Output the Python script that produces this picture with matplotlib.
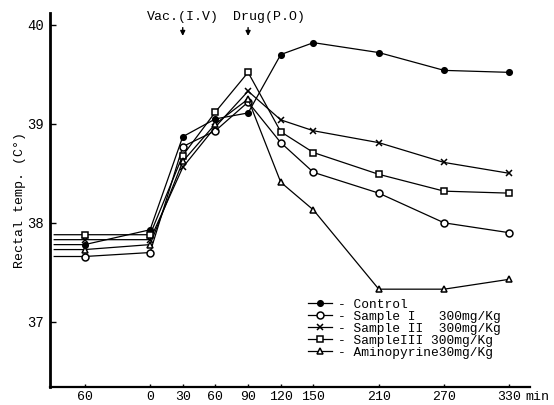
# External imports
import numpy as np
import matplotlib
matplotlib.use("Agg")
import matplotlib.pyplot as plt

# Time axis (min); negative = before vaccination, first point is the line start
times = [-88, -60, 0, 30, 60, 90, 120, 150, 210, 270, 330]
tick_times = [-60, 0, 30, 60, 90, 120, 150, 210, 270, 330]
tick_labels = ["60", "0", "30", "60", "90", "120", "150", "210", "270", "330"]

# Rectal temperature (C) for each group
control = [37.78, 37.78, 37.93, 38.87, 39.05, 39.11, 39.70, 39.82, 39.72, 39.54, 39.52]
sample_1 = [37.66, 37.66, 37.70, 38.77, 38.93, 39.22, 38.81, 38.51, 38.30, 38.00, 37.90]
sample_2 = [37.83, 37.83, 37.83, 38.56, 38.97, 39.33, 39.04, 38.93, 38.81, 38.61, 38.50]
sample_3 = [37.88, 37.88, 37.88, 38.68, 39.12, 39.52, 38.92, 38.71, 38.49, 38.32, 38.30]
aminopyrine = [37.73, 37.73, 37.78, 38.62, 39.00, 39.25, 38.41, 38.13, 37.33, 37.33, 37.43]

labels = ["- Control",
          "- Sample I   300mg/Kg",
          "- Sample II  300mg/Kg",
          "- SampleIII 300mg/Kg",
          "- Aminopyrine30mg/Kg"]

FONT = "Liberation Mono"
plt.rcParams['font.family'] = [FONT, 'DejaVu Sans']

fig = plt.figure(figsize=(5.54, 4.05), dpi=100)
ax = fig.add_axes([0.09, 0.044, 0.867, 0.924])

# Marker styles: (marker, size, filled)
styles = [("o", 4, True), ("o", 5, False), ("x", 5, True), ("s", 5, False), ("^", 5, False)]
series = [control, sample_1, sample_2, sample_3, aminopyrine]

for values, (mk, ms, filled), lab in zip(series, styles, labels):
    ax.plot(times, values, color="black", lw=0.9, marker=mk, ms=ms,
            mfc="black" if filled else "white", mec="black", mew=1.1,
            markevery=list(range(1, len(times))), label=lab)

# Axes styling
ax.set_xlim(-92, 349)
ax.set_ylim(36.34, 40.12)
ax.spines['top'].set_visible(False)
ax.spines['right'].set_visible(False)
ax.spines['left'].set_linewidth(2.0)
ax.spines['bottom'].set_linewidth(1.6)
ax.set_xticks(tick_times)
ax.set_xticklabels(tick_labels)
ax.set_yticks([37, 38, 39, 40])
ax.tick_params(axis='y', direction='in', length=4, width=1, labelsize=10, pad=4)
ax.tick_params(axis='x', direction='in', length=2, width=1, labelsize=9.5, pad=3)
ax.set_ylabel("Rectal temp. (C°)", fontsize=9.5, labelpad=1)
ax.annotate("min", xy=(345, 0), xycoords=ax.get_xaxis_transform(),
            xytext=(0, -3), textcoords="offset points",
            fontsize=9.5, va='top', ha='left', annotation_clip=False)

# Treatment annotations
arrow = dict(arrowstyle="-|>", color="black", lw=1, mutation_scale=7)
ax.annotate("", xy=(30, 39.86), xytext=(30, 40.0), arrowprops=arrow)
ax.annotate("", xy=(90, 39.86), xytext=(90, 40.0), arrowprops=arrow)
ax.text(30, 40.08, "Vac.(I.V)", ha='center', va='center', fontsize=9.5)
ax.text(76, 40.08, "Drug(P.O)", ha='left', va='center', fontsize=9.5)

leg = ax.legend(loc='upper left', bbox_to_anchor=(0.525, 0.254), frameon=False,
                prop={'family': FONT, 'size': 9.3}, handlelength=1.8,
                handletextpad=0.5, labelspacing=0.0, borderpad=0)

plt.savefig("out.png", dpi=100)
plt.close()
